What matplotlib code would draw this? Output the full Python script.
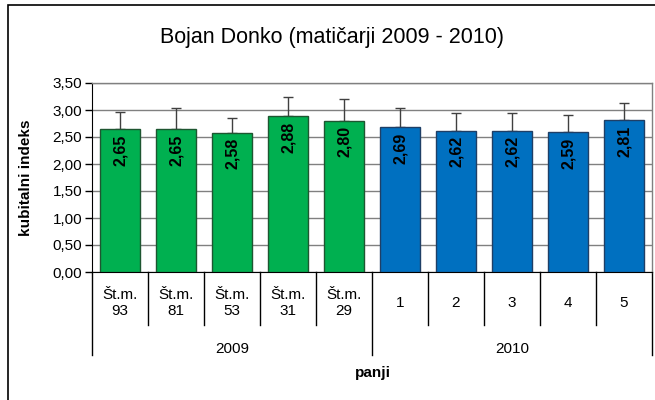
import matplotlib
matplotlib.use("Agg")
import matplotlib.pyplot as plt
from matplotlib.patches import Rectangle
from matplotlib.lines import Line2D

categories = ["Št.m.\n93", "Št.m.\n81", "Št.m.\n53", "Št.m.\n31", "Št.m.\n29", "1", "2", "3", "4", "5"]
groups = ["2009", "2010"]
group_sizes = [5, 5]
values = [2.65, 2.65, 2.58, 2.88, 2.80, 2.69, 2.62, 2.62, 2.59, 2.81]
errors = [0.31, 0.39, 0.28, 0.37, 0.40, 0.35, 0.32, 0.32, 0.32, 0.32]
value_labels = ["2,65", "2,65", "2,58", "2,88", "2,80", "2,69", "2,62", "2,62", "2,59", "2,81"]
yticks = [0.0, 0.5, 1.0, 1.5, 2.0, 2.5, 3.0, 3.5]
ytick_labels = ["0,00", "0,50", "1,00", "1,50", "2,00", "2,50", "3,00", "3,50"]
title = "Bojan Donko (matičarji 2009 - 2010)"
ylabel = "kubitalni indeks"
xlabel = "panji"

W, H = 655, 400
fig = plt.figure(figsize=(W / 100, H / 100), dpi=100)
plt.rcParams['font.family'] = ['Liberation Sans', 'DejaVu Sans']

# outer chart frame
fig.patches.append(Rectangle((8 / W, -0.05), 1.2, 1 - 5 / H + 0.05, transform=fig.transFigure,
                             fill=False, edgecolor='black', linewidth=1.2))

x0, x1, yb, yt = 92, 652, 272, 83
ax = fig.add_axes([x0 / W, 1 - yb / H, (x1 - x0) / W, (yb - yt) / H])
ph = yb - yt

colors = ["#00B050"] * group_sizes[0] + ["#0070C0"] * group_sizes[1]
edges = ["#1E5631"] * group_sizes[0] + ["#1F3F66"] * group_sizes[1]
xs = list(range(len(values)))
ax.bar(xs, values, width=0.73, color=colors, edgecolor=edges, linewidth=1.0, zorder=3)
ax.errorbar(xs, values, yerr=[[0] * len(errors), errors], fmt='none', ecolor='#404040',
            elinewidth=1.0, capsize=3.5, capthick=1.0, zorder=2)

for x, v, lab in zip(xs, values, value_labels):
    ax.annotate(lab, (x, v), xytext=(0, -4), textcoords='offset points', rotation=90,
                ha='center', va='top', fontsize=11.5, fontweight='bold', color='black', zorder=4)

ax.set_xlim(-0.5, len(values) - 0.5)
ax.set_ylim(0, 3.5)
ax.set_yticks(yticks)
ax.set_yticklabels(ytick_labels, fontsize=11)
ax.tick_params(axis='y', length=5, width=1, color='black', pad=2)
ax.set_xticks([])
ax.yaxis.grid(True, color='#808080', linewidth=1.0, zorder=0)
ax.set_axisbelow(True)
for s in ['top', 'right']:
    ax.spines[s].set_color('#808080')
    ax.spines[s].set_linewidth(1.0)
ax.spines['left'].set_color('black')
ax.spines['bottom'].set_color('black')

ax.set_ylabel(ylabel, fontsize=11, fontweight='bold')
ax.yaxis.set_label_coords((33 - x0) / (x1 - x0), 0.5)

tr = ax.get_xaxis_transform()
def ay(py):
    return (yb - py) / ph

# category labels
for x, c in zip(xs, categories):
    ax.text(x, ay(303), c, transform=tr, ha='center', va='center', fontsize=11,
            linespacing=1.2, clip_on=False)
# separators
start = 0
group_bounds = [-0.5]
for gs in group_sizes:
    start += gs
    group_bounds.append(start - 0.5)
for i in range(len(values) + 1):
    xb = i - 0.5
    low = ay(355) if xb in group_bounds else ay(325)
    ax.add_line(Line2D([xb, xb], [0, low], transform=tr, color='black', linewidth=1.0, clip_on=False))
# group labels
start = 0
for g, gs in zip(groups, group_sizes):
    ax.text(start + (gs - 1) / 2, ay(349), g, transform=tr, ha='center', va='center', fontsize=11,
            clip_on=False)
    start += gs

fig.text(373 / W, 1 - 373 / H, xlabel, ha='center', va='center', fontsize=11,
         fontweight='bold')
fig.text(332 / W, 1 - 37 / H, title, ha='center', va='center', fontsize=15.5)

fig.savefig("out.png", dpi=100)
